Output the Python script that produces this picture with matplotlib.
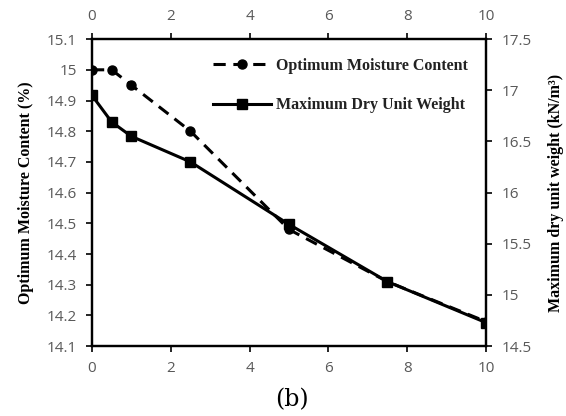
import matplotlib
matplotlib.use("Agg")
import matplotlib.pyplot as plt
from matplotlib.ticker import FuncFormatter

# data
content = [0, 0.5, 1, 2.5, 5, 7.5, 10]
omc = [15.0, 15.0, 14.95, 14.80, 14.48, 14.31, 14.18]
mdd = [16.95, 16.69, 16.55, 16.30, 15.69, 15.13, 14.73]

left_ticks = [14.1, 14.2, 14.3, 14.4, 14.5, 14.6, 14.7, 14.8, 14.9, 15.0, 15.1]
right_ticks = [14.5, 15, 15.5, 16, 16.5, 17, 17.5]
x_ticks = [0, 2, 4, 6, 8, 10]

serif = "Liberation Serif"
tick_font = "Open Sans"
tick_col = "#595959"

fig = plt.figure(figsize=(5.66, 4.16), dpi=100)
ax = fig.add_axes([0.1625, 0.168, 0.696, 0.738])

l1, = ax.plot(content, omc, color="black", lw=2.2, ls=(0, (4, 2.5)),
              marker="o", ms=6.5, label="Optimum Moisture Content")
ax.set_xlim(0, 10)
ax.set_ylim(14.1, 15.1)
ax.set_yticks(left_ticks)
ax.set_xticks(x_ticks)
ax.yaxis.set_major_formatter(FuncFormatter(lambda v, p: "%g" % round(v, 2)))

ax2 = ax.twinx()
l2, = ax2.plot(content, mdd, color="black", lw=2.2, ls="-",
               marker="s", ms=7, label="Maximum Dry Unit Weight")
ax2.set_ylim(14.5, 17.5)
ax2.set_yticks(right_ticks)
ax2.yaxis.set_major_formatter(FuncFormatter(lambda v, p: "%g" % v))

# top axis repeats the x ticks
ax.tick_params(axis="x", top=True, labeltop=True)

for a in (ax, ax2):
    for s in a.spines.values():
        s.set_linewidth(1.6)
        s.set_color("black")
    a.tick_params(direction="out", length=4, width=1.2, pad=7,
                  labelsize=11, labelcolor=tick_col)
    for lab in a.get_xticklabels() + a.get_yticklabels():
        lab.set_fontfamily(tick_font)

ax.set_ylabel("Optimum Moisture Content (%)", fontfamily=serif,
              fontweight="bold", fontsize=11.5, labelpad=9)
ax2.set_ylabel("Maximum dry unit weight (kN/m³)", fontfamily=serif,
               fontweight="bold", fontsize=11.5, labelpad=12, rotation=90)

leg = ax.legend(handles=[l1, l2], loc="upper right", frameon=False,
                prop={"family": serif, "weight": "bold", "size": 11.5},
                handlelength=3.6, labelspacing=1.45, handletextpad=0.3,
                bbox_to_anchor=(0.99, 0.985))
for t in leg.get_texts():
    t.set_color("#222222")

fig.text(0.515, 0.04, "(b)", fontfamily="DejaVu Serif", fontsize=17,
         ha="center", va="center")

fig.savefig("out.png", dpi=100)
